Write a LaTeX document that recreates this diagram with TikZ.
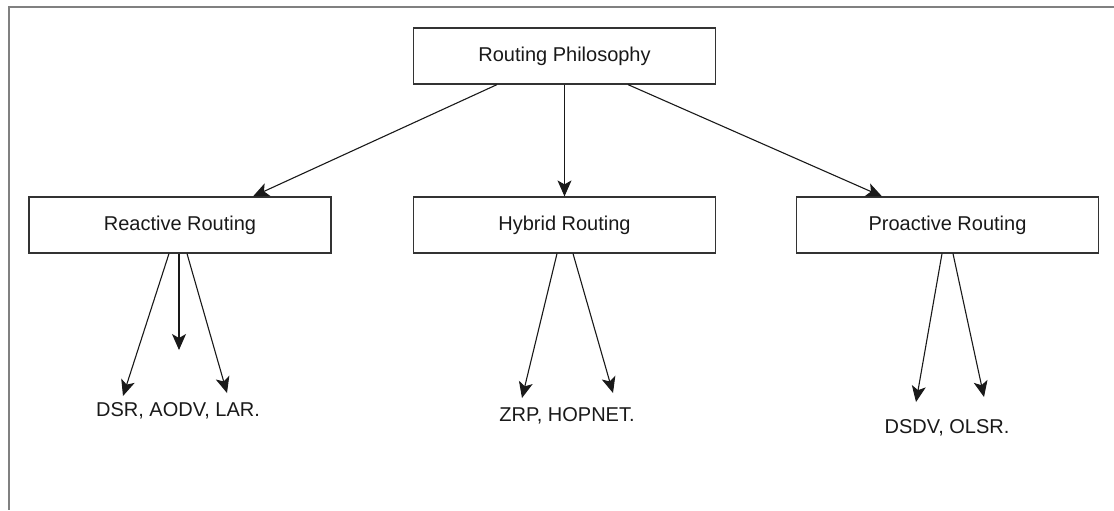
\documentclass[tikz,border=0pt]{standalone}
\usepackage{fontspec}
\setmainfont{Liberation Sans}
\usetikzlibrary{calc,arrows.meta}

\begin{document}
\begin{tikzpicture}[x=0.5pt,y=-0.5pt,
  box/.style={draw=black!80,line width=0.6pt,minimum width=151pt,minimum height=28pt,inner sep=0pt,text=black!90},
  leaf/.style={inner sep=0pt,text=black!90},
  arr/.style={-{Stealth[length=8pt,width=7pt,inset=2pt]},line width=0.55pt,black!90},
  frame/.style={draw=black!50,line width=1pt},
  font=\fontsize{10}{12}\selectfont]
\useasboundingbox (0,0) rectangle (1114,510);
\draw [frame] (1114,7) -- (9,7) -- (9,510);

\node [box] (root) at (564.5,56) {Routing Philosophy};
\node [box] (reactive) at (180,225) {Reactive Routing};
\node [box] (hybrid) at (564.5,225) {Hybrid Routing};
\node [box] (proactive) at (947.5,225) {Proactive Routing};

\node [leaf] (reactlist) at (178,411) {DSR, AODV, LAR.};
\node [leaf] (hyblist) at (567,416) {ZRP, HOPNET.};
\node [leaf] (proactlist) at (947,428) {DSDV, OLSR.};

\draw [arr] ($(root.south)+(-67.5,0)$) -- ($(reactive.north)+(73,0)$);
\draw [arr] (root.south) -- (hybrid.north);
\draw [arr] ($(root.south)+(63.5,0)$) -- ($(proactive.north)+(-65.5,0)$);

% reactive protocols
\coordinate (r1) at (123,396);
\coordinate (r2) at (179,350);
\coordinate (r3) at (227,393);
\draw [arr] ($(reactive.south)+(-11,0)$) -- (r1);
\draw [arr] ($(reactive.south)+(-1,0)$) -- (r2);
\draw [arr] ($(reactive.south)+(7,0)$) -- (r3);

% hybrid protocols
\coordinate (h1) at (522,398);
\coordinate (h2) at (613,393);
\draw [arr] ($(hybrid.south)+(-7.5,0)$) -- (h1);
\draw [arr] ($(hybrid.south)+(8.5,0)$) -- (h2);

% proactive protocols
\coordinate (p1) at (916,402);
\coordinate (p2) at (984,397);
\draw [arr] ($(proactive.south)+(-5.5,0)$) -- (p1);
\draw [arr] ($(proactive.south)+(5.5,0)$) -- (p2);

\end{tikzpicture}
\end{document}
